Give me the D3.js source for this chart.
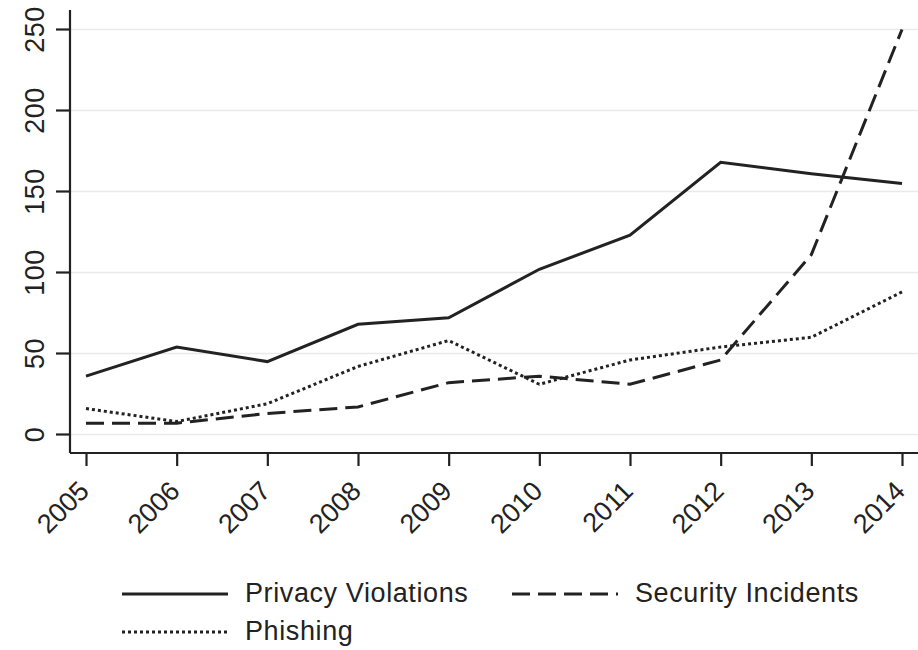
<!DOCTYPE html>
<html>
<head>
<meta charset="utf-8">
<script src="https://cdn.jsdelivr.net/npm/d3@7"></script>
<style>
  body { margin: 0; background: #fff; }
  svg text { font-family: "Liberation Sans", Arial, sans-serif; fill: #222; }
</style>
</head>
<body>
<div id="chart"></div>
<script>
// chart values
var years = [2005, 2006, 2007, 2008, 2009, 2010, 2011, 2012, 2013, 2014];
var privacy = [36, 54, 45, 68, 72, 102, 123, 168, 161, 155];
var security = [7, 7, 13, 17, 32, 36, 31, 46, 111, 250];
var phishing = [16, 8, 19, 42, 58, 31, 46, 54, 60, 88];
var yTicks = [0, 50, 100, 150, 200, 250];

var width = 918, height = 650;
var svg = d3.select("#chart").append("svg")
    .attr("width", width)
    .attr("height", height);

var x = d3.scaleLinear().domain([2005, 2014]).range([86, 902]);
var y = d3.scaleLinear().domain([0, 250]).range([434.5, 29.5]);

// gridlines
svg.append("g")
    .selectAll("line").data(yTicks)
    .enter().append("line")
    .attr("x1", 71).attr("x2", width)
    .attr("y1", function(d){ return y(d); })
    .attr("y2", function(d){ return y(d); })
    .style("stroke", "#e9e9e9")
    .style("stroke-width", 1.5);

// y axis
var yAxis = svg.append("g")
    .attr("transform", "translate(70,0)")
    .call(d3.axisLeft(y).tickValues(yTicks).tickSize(14).tickPadding(10));
yAxis.select(".domain").attr("d", "M0,10V453");
yAxis.selectAll("text")
    .attr("transform", function(d){ return "rotate(-90," + (-26) + "," + y(d) + ")"; })
    .attr("x", -26)
    .attr("y", function(d){ return y(d); })
    .attr("dy", "0em")
    .style("text-anchor", "middle")
    .style("font-size", "27px")
    .style("letter-spacing", "0.5px");
yAxis.selectAll(".tick").attr("transform", null);
yAxis.selectAll(".tick line")
    .attr("y1", function(d){ return y(d); })
    .attr("y2", function(d){ return y(d); });

// x axis
var xAxis = svg.append("g")
    .attr("transform", "translate(0,453)")
    .call(d3.axisBottom(x).tickValues(years).tickFormat(d3.format("d")).tickSize(13));
xAxis.select(".domain").attr("d", "M70,0H" + width);
xAxis.selectAll("text")
    .attr("transform", "rotate(-45)")
    .attr("x", -25)
    .attr("y", 31)
    .attr("dy", "0em")
    .style("text-anchor", "end")
    .style("font-size", "27px");

svg.selectAll(".domain, .tick line")
    .style("stroke", "#222")
    .style("stroke-width", 2.2);
svg.selectAll(".tick text").style("fill", "#222").style("font-family", "Liberation Sans, Arial, sans-serif");

// series
var series = [
  { name: "Privacy Violations", values: privacy, dash: null },
  { name: "Security Incidents", values: security, dash: "18,8" },
  { name: "Phishing", values: phishing, dash: "3,3" }
];

var line = d3.line()
    .x(function(d, i){ return x(years[i]); })
    .y(function(d){ return y(d); });

svg.append("g")
    .selectAll("path").data(series)
    .enter().append("path")
    .attr("d", function(d){ return line(d.values); })
    .style("fill", "none")
    .style("stroke", "#222")
    .style("stroke-width", 3)
    .style("stroke-dasharray", function(d){ return d.dash; });

// legend
var legendPos = [[122, 594], [512, 594], [122, 632]];
var legend = svg.append("g")
    .selectAll("g").data(series)
    .enter().append("g")
    .attr("transform", function(d, i){ return "translate(" + legendPos[i][0] + "," + legendPos[i][1] + ")"; });
legend.append("line")
    .attr("x1", 0).attr("x2", 106)
    .style("stroke", "#222")
    .style("stroke-width", 3)
    .style("stroke-dasharray", function(d){ return d.dash; });
legend.append("text")
    .attr("x", 123)
    .attr("dy", "0.29em")
    .style("font-size", "27px")
    .style("letter-spacing", "0.6px")
    .text(function(d){ return d.name; });
</script>
</body>
</html>
